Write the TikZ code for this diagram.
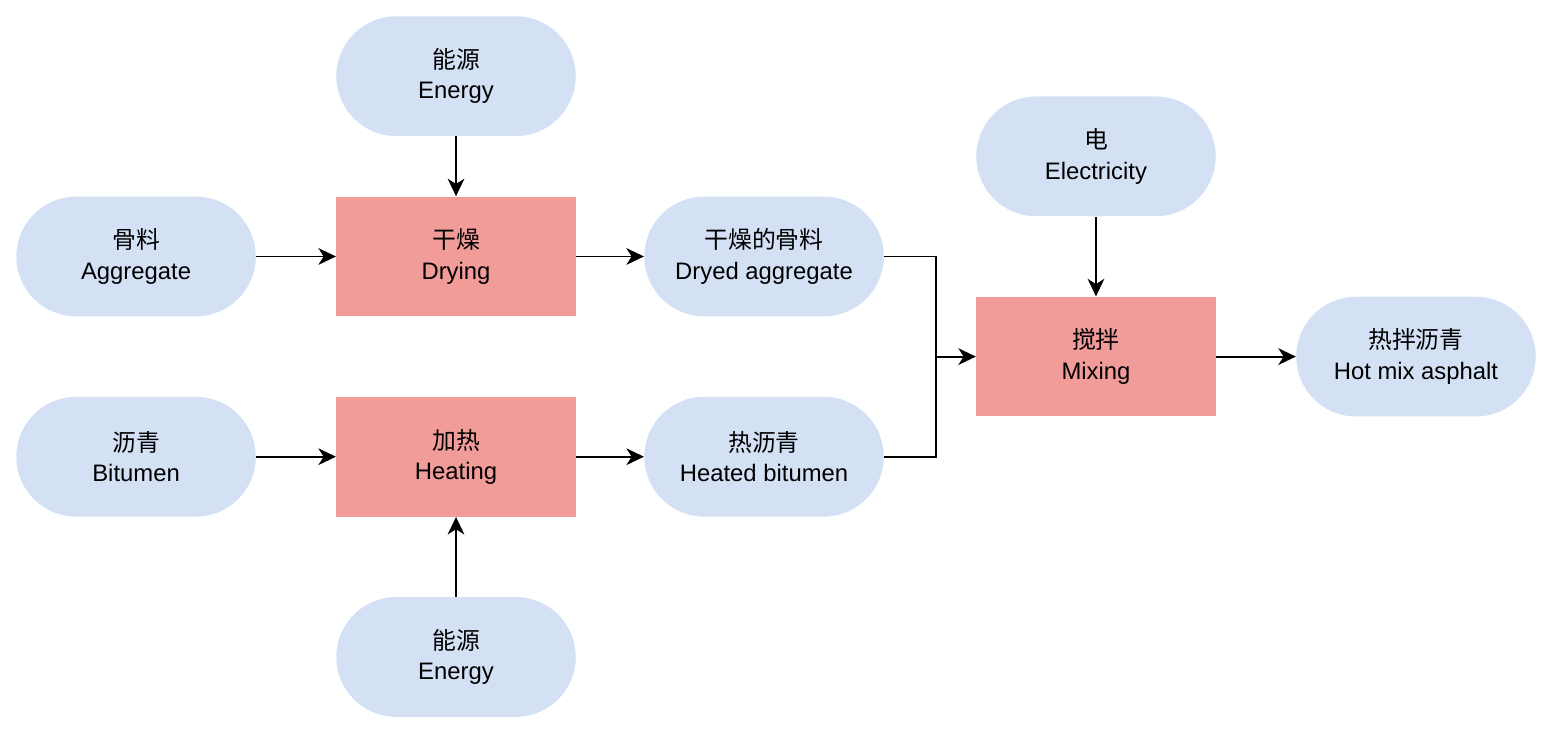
\documentclass[tikz,border=0pt]{standalone}
\usepackage{fontspec}
\setmainfont{Liberation Sans}
\newfontfamily\cjk{Noto Sans CJK SC}
\usepackage{xcolor}
\usetikzlibrary{positioning,arrows.meta,calc}

\definecolor{matblue}{HTML}{D4E1F5}
\definecolor{procred}{HTML}{F19C99}

\begin{document}
\begin{tikzpicture}[
  font=\fontsize{13.6}{17.4}\selectfont,
  material/.style={fill=matblue, rounded corners=1.2cm, align=center, minimum width=4.8cm, minimum height=2.4cm},
  process/.style={fill=procred, align=center, minimum width=4.8cm, minimum height=2.4cm},
  flow/.style={-{Stealth[length=10pt, width=9.5pt, inset=3pt]}, line width=1.1pt}
]
\node[process] (drying) {{\cjk 干燥}\\Drying};
\node[material, left=1.6cm of drying] (aggregate) {{\cjk 骨料}\\Aggregate};
\node[material, above=1.2cm of drying] (energyA) {{\cjk 能源}\\Energy};
\node[material, right=1.36cm of drying] (dried) {{\cjk 干燥的骨料}\\Dryed aggregate};
\node[process, below=1.6cm of drying] (heating) {{\cjk 加热}\\Heating};
\node[material, left=1.6cm of heating] (bitumen) {{\cjk 沥青}\\Bitumen};
\node[material, right=1.36cm of heating] (heated) {{\cjk 热沥青}\\Heated bitumen};
\node[material, below=1.6cm of heating] (energyB) {{\cjk 能源}\\Energy};
\coordinate (join) at ($(dried.east)!0.5!(heated.east)+(1.04,0)$);
\node[process, right=0.8cm of join] (mixing) {{\cjk 搅拌}\\Mixing};
\node[material, above=1.6cm of mixing] (power) {{\cjk 电}\\Electricity};
\node[material, right=1.6cm of mixing] (hotmix) {{\cjk 热拌沥青}\\Hot mix asphalt};

\useasboundingbox ($(aggregate.west |- energyA.north)+(-0.32,0.32)$) rectangle ($(hotmix.east |- energyB.south)+(0.36,-0.36)$);

\draw[flow] (aggregate) -- (drying);
\draw[flow] (energyA) -- (drying);
\draw[flow] (drying) -- (dried);
\draw[flow] (bitumen) -- (heating);
\draw[flow] (energyB) -- (heating);
\draw[flow] (heating) -- (heated);
\draw[line width=1.1pt] (dried.east) -| (join);
\draw[line width=1.1pt] (heated.east) -| (join);
\draw[flow] (join) -- (mixing);
\draw[flow] (power) -- (mixing);
\draw[flow] (mixing) -- (hotmix);
\end{tikzpicture}
\end{document}
